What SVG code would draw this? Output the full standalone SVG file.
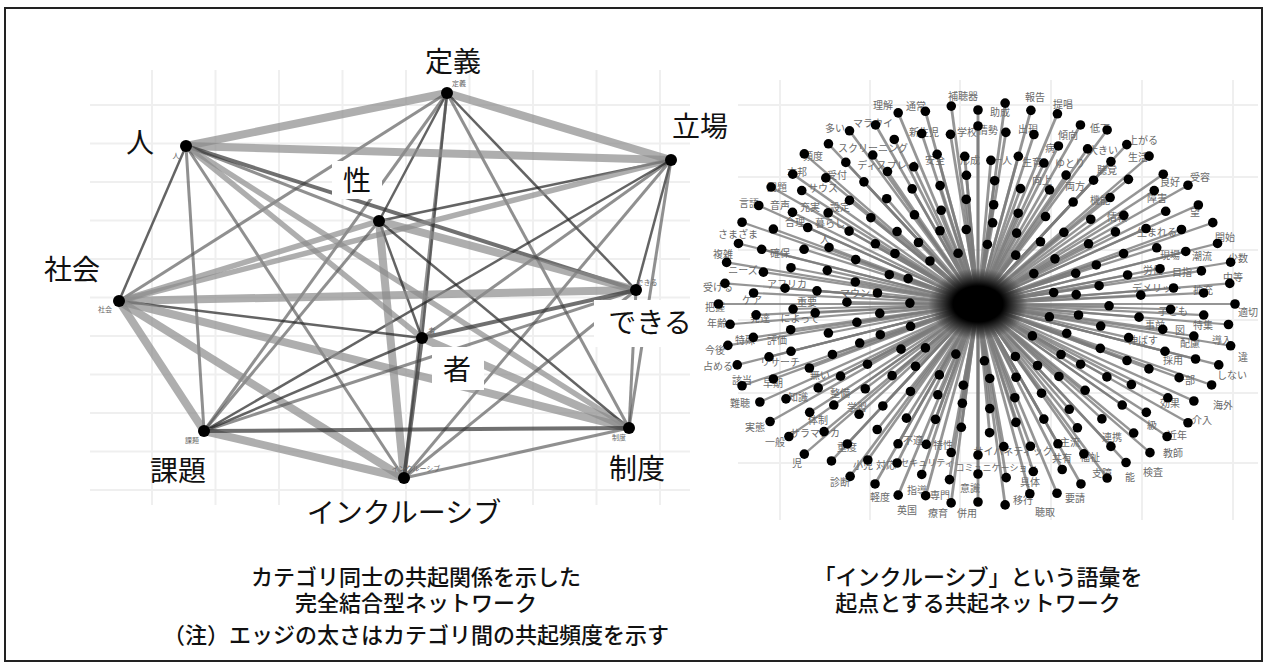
<svg xmlns="http://www.w3.org/2000/svg" width="1268" height="666" viewBox="0 0 1268 666">
<style>
text{font-family:"Noto Sans CJK JP","Noto Sans",sans-serif}
.big{font-size:28px;fill:#111;text-anchor:middle}
.sm{font-size:7px;fill:#666;text-anchor:middle}
text.cap{font-family:"Liberation Sans","Noto Sans CJK JP",sans-serif;font-size:22px;fill:#111;text-anchor:middle;font-weight:500}
.rl{font-size:10px;fill:#6a6a6a;text-anchor:middle}
.grid line{stroke:#efefef;stroke-width:2}
.e1{stroke:#8c8c8c;stroke-opacity:.7;stroke-width:8}
.e2{stroke:#8c8c8c;stroke-opacity:.7;stroke-width:5.5}
.e3{stroke:#222;stroke-opacity:.7;stroke-width:2.5}
.e4{stroke:#555;stroke-opacity:.65;stroke-width:3}
.e5{stroke:#333;stroke-opacity:.7;stroke-width:4}
.box{fill:#fff}
.spk line{stroke:#7a7a7a;stroke-opacity:.8;stroke-width:2.2}
</style>
<defs>
<circle id="d" r="4.8" fill="#000"/>
<radialGradient id="blob">
<stop offset="0" stop-color="#000"/>
<stop offset=".5" stop-color="#000"/>
<stop offset="1" stop-color="#000" stop-opacity="0"/>
</radialGradient>
</defs>
<rect width="1268" height="666" fill="#fff"/>
<rect x="5" y="8" width="1257" height="653" fill="none" stroke="#222" stroke-width="2"/>

<g class="grid" id="grid-left">
<line x1="152" y1="70" x2="152" y2="505"/><line x1="215.5" y1="70" x2="215.5" y2="505"/><line x1="279" y1="70" x2="279" y2="505"/><line x1="342.5" y1="70" x2="342.5" y2="505"/><line x1="406" y1="70" x2="406" y2="505"/><line x1="469.5" y1="70" x2="469.5" y2="505"/><line x1="533" y1="70" x2="533" y2="505"/><line x1="596.5" y1="70" x2="596.5" y2="505"/><line x1="660" y1="70" x2="660" y2="505"/>
<line x1="90" y1="105" x2="690" y2="105"/><line x1="90" y1="143.5" x2="690" y2="143.5"/><line x1="90" y1="182" x2="690" y2="182"/><line x1="90" y1="220.5" x2="690" y2="220.5"/><line x1="90" y1="259" x2="690" y2="259"/><line x1="90" y1="297.5" x2="690" y2="297.5"/><line x1="90" y1="336" x2="690" y2="336"/><line x1="90" y1="374.5" x2="690" y2="374.5"/><line x1="90" y1="413" x2="690" y2="413"/><line x1="90" y1="451.5" x2="690" y2="451.5"/><line x1="90" y1="490" x2="690" y2="490"/>
</g>
<g class="grid" id="grid-right">
<line x1="780" y1="80" x2="780" y2="520"/><line x1="870" y1="80" x2="870" y2="520"/><line x1="960" y1="80" x2="960" y2="520"/><line x1="1051" y1="80" x2="1051" y2="520"/><line x1="1142" y1="80" x2="1142" y2="520"/><line x1="1233" y1="80" x2="1233" y2="520"/>
<line x1="738" y1="105" x2="1258" y2="105"/><line x1="738" y1="177" x2="1258" y2="177"/><line x1="738" y1="250" x2="1258" y2="250"/><line x1="738" y1="320" x2="1258" y2="320"/><line x1="738" y1="393" x2="1258" y2="393"/><line x1="738" y1="463" x2="1258" y2="463"/>
</g>

<g id="edges-left" stroke-linecap="butt">
<line class="e1" x1="447" y1="93" x2="186" y2="146"/>
<line class="e1" x1="447" y1="93" x2="671" y2="160"/>
<line class="e3" x1="447" y1="93" x2="379" y2="221"/>
<line class="e4" x1="447" y1="93" x2="119" y2="301"/>
<line class="e3" x1="447" y1="93" x2="636" y2="290"/>
<line class="e3" x1="447" y1="93" x2="422" y2="338"/>
<line class="e4" x1="447" y1="93" x2="204" y2="431"/>
<line class="e4" x1="447" y1="93" x2="404" y2="478"/>
<line class="e4" x1="447" y1="93" x2="629" y2="428"/>
<line class="e1" x1="186" y1="146" x2="671" y2="160"/>
<line class="e4" x1="186" y1="146" x2="379" y2="221"/>
<line class="e3" x1="186" y1="146" x2="119" y2="301"/>
<line class="e5" x1="186" y1="146" x2="636" y2="290"/>
<line class="e2" x1="186" y1="146" x2="422" y2="338"/>
<line class="e4" x1="186" y1="146" x2="204" y2="431"/>
<line class="e4" x1="186" y1="146" x2="404" y2="478"/>
<line class="e2" x1="186" y1="146" x2="629" y2="428"/>
<line class="e3" x1="671" y1="160" x2="379" y2="221"/>
<line class="e2" x1="671" y1="160" x2="119" y2="301"/>
<line class="e3" x1="671" y1="160" x2="636" y2="290"/>
<line class="e4" x1="671" y1="160" x2="422" y2="338"/>
<line class="e3" x1="671" y1="160" x2="204" y2="431"/>
<line class="e4" x1="671" y1="160" x2="404" y2="478"/>
<line class="e4" x1="671" y1="160" x2="629" y2="428"/>
<line class="e2" x1="379" y1="221" x2="119" y2="301"/>
<line class="e1" x1="379" y1="221" x2="636" y2="290" stroke-width="9"/>
<line class="e3" x1="379" y1="221" x2="422" y2="338"/>
<line class="e4" x1="379" y1="221" x2="204" y2="431"/>
<line class="e1" x1="379" y1="221" x2="404" y2="478"/>
<line class="e3" x1="379" y1="221" x2="629" y2="428"/>
<line class="e1" x1="119" y1="301" x2="636" y2="290"/>
<line class="e3" x1="119" y1="301" x2="422" y2="338"/>
<line class="e1" x1="119" y1="301" x2="204" y2="431" stroke-width="7"/>
<line class="e1" x1="119" y1="301" x2="404" y2="478"/>
<line class="e1" x1="119" y1="301" x2="629" y2="428" stroke-width="9"/>
<line class="e5" x1="636" y1="290" x2="422" y2="338"/>
<line class="e4" x1="636" y1="290" x2="204" y2="431"/>
<line class="e4" x1="636" y1="290" x2="404" y2="478"/>
<line class="e4" x1="636" y1="290" x2="629" y2="428"/>
<line class="e3" x1="422" y1="338" x2="204" y2="431"/>
<line class="e5" x1="422" y1="338" x2="404" y2="478"/>
<line class="e1" x1="422" y1="338" x2="629" y2="428" stroke-width="9"/>
<line class="e1" x1="204" y1="431" x2="404" y2="478" stroke-width="10"/>
<line class="e5" x1="204" y1="431" x2="629" y2="428"/>
<line class="e4" x1="404" y1="478" x2="629" y2="428"/>
</g>

<g id="label-boxes">
<rect class="box" x="332" y="161" width="50" height="38"/>
<rect class="box" x="594" y="300" width="106" height="47"/>
<rect class="box" x="432" y="347" width="52" height="43"/>
</g>

<g id="n-teigi"><circle cx="447" cy="93" r="6"/><text class="sm" x="459" y="86">定義</text><text class="big" x="453" y="72">定義</text></g>
<g id="n-hito"><circle cx="186" cy="146" r="6"/><text class="sm" x="176" y="158">人</text><text class="big" x="140" y="153">人</text></g>
<g id="n-tachiba"><circle cx="671" cy="160" r="6"/><text class="big" x="700" y="137">立場</text></g>
<g id="n-sei"><circle cx="379" cy="221" r="6"/><text class="big" x="357" y="191">性</text></g>
<g id="n-shakai"><circle cx="119" cy="301" r="6"/><text class="sm" x="105" y="312">社会</text><text class="big" x="72" y="280">社会</text></g>
<g id="n-dekiru"><circle cx="636" cy="290" r="6"/><text class="sm" x="647" y="285">できる</text><text class="big" x="650" y="333">できる</text></g>
<g id="n-mono"><circle cx="422" cy="338" r="6"/><text class="sm" x="432" y="333">者</text><text class="big" x="457" y="380">者</text></g>
<g id="n-kadai"><circle cx="204" cy="431" r="6"/><text class="sm" x="192" y="443">課題</text><text class="big" x="178" y="481">課題</text></g>
<g id="n-inclusive"><circle cx="404" cy="478" r="6"/><text class="sm" x="416" y="471">インクルーシブ</text><text class="big" x="404" y="523">インクルーシブ</text></g>
<g id="n-seido"><circle cx="629" cy="428" r="6"/><text class="sm" x="619" y="440">制度</text><text class="big" x="637" y="479">制度</text></g>

<g id="star-network">
<g id="star-spokes" class="spk" transform="translate(978 304) scale(1.285 1)">
<line x2="200" transform="rotate(0)"/><line x2="196" transform="rotate(6)"/><line x2="201" transform="rotate(12)"/><line x2="197" transform="rotate(18)"/><line x2="199" transform="rotate(24)"/><line x2="194" transform="rotate(30)"/><line x2="202" transform="rotate(36)"/><line x2="198" transform="rotate(42)"/><line x2="200" transform="rotate(48)"/><line x2="196" transform="rotate(54)"/><line x2="201" transform="rotate(60)"/><line x2="197" transform="rotate(66)"/><line x2="199" transform="rotate(72)"/><line x2="194" transform="rotate(78)"/><line x2="202" transform="rotate(84)"/><line x2="198" transform="rotate(90)"/><line x2="200" transform="rotate(96)"/><line x2="196" transform="rotate(102)"/><line x2="201" transform="rotate(108)"/><line x2="197" transform="rotate(114)"/><line x2="199" transform="rotate(120)"/><line x2="194" transform="rotate(126)"/><line x2="202" transform="rotate(132)"/><line x2="198" transform="rotate(138)"/><line x2="200" transform="rotate(144)"/><line x2="196" transform="rotate(150)"/><line x2="201" transform="rotate(156)"/><line x2="197" transform="rotate(162)"/><line x2="199" transform="rotate(168)"/><line x2="194" transform="rotate(174)"/><line x2="202" transform="rotate(180)"/><line x2="198" transform="rotate(186)"/><line x2="200" transform="rotate(192)"/><line x2="196" transform="rotate(198)"/><line x2="201" transform="rotate(204)"/><line x2="197" transform="rotate(210)"/><line x2="199" transform="rotate(216)"/><line x2="194" transform="rotate(222)"/><line x2="202" transform="rotate(228)"/><line x2="198" transform="rotate(234)"/><line x2="200" transform="rotate(240)"/><line x2="196" transform="rotate(246)"/><line x2="201" transform="rotate(252)"/><line x2="197" transform="rotate(258)"/><line x2="199" transform="rotate(264)"/><line x2="194" transform="rotate(270)"/><line x2="202" transform="rotate(276)"/><line x2="198" transform="rotate(282)"/><line x2="200" transform="rotate(288)"/><line x2="196" transform="rotate(294)"/><line x2="201" transform="rotate(300)"/><line x2="197" transform="rotate(306)"/><line x2="199" transform="rotate(312)"/><line x2="194" transform="rotate(318)"/><line x2="202" transform="rotate(324)"/><line x2="198" transform="rotate(330)"/><line x2="200" transform="rotate(336)"/><line x2="196" transform="rotate(342)"/><line x2="201" transform="rotate(348)"/><line x2="197" transform="rotate(354)"/>
<line x2="176" transform="rotate(3.6)"/><line x2="171" transform="rotate(10.8)"/><line x2="178" transform="rotate(18)"/><line x2="173" transform="rotate(25.2)"/><line x2="175" transform="rotate(32.4)"/><line x2="170" transform="rotate(39.6)"/><line x2="177" transform="rotate(46.8)"/><line x2="176" transform="rotate(54)"/><line x2="171" transform="rotate(61.2)"/><line x2="178" transform="rotate(68.4)"/><line x2="173" transform="rotate(75.6)"/><line x2="175" transform="rotate(82.8)"/><line x2="170" transform="rotate(90)"/><line x2="177" transform="rotate(97.2)"/><line x2="176" transform="rotate(104.4)"/><line x2="171" transform="rotate(111.6)"/><line x2="178" transform="rotate(118.8)"/><line x2="173" transform="rotate(126)"/><line x2="175" transform="rotate(133.2)"/><line x2="170" transform="rotate(140.4)"/><line x2="177" transform="rotate(147.6)"/><line x2="176" transform="rotate(154.8)"/><line x2="171" transform="rotate(162)"/><line x2="178" transform="rotate(169.2)"/><line x2="173" transform="rotate(176.4)"/><line x2="175" transform="rotate(183.6)"/><line x2="170" transform="rotate(190.8)"/><line x2="177" transform="rotate(198)"/><line x2="176" transform="rotate(205.2)"/><line x2="171" transform="rotate(212.4)"/><line x2="178" transform="rotate(219.6)"/><line x2="173" transform="rotate(226.8)"/><line x2="175" transform="rotate(234)"/><line x2="170" transform="rotate(241.2)"/><line x2="177" transform="rotate(248.4)"/><line x2="176" transform="rotate(255.6)"/><line x2="171" transform="rotate(262.8)"/><line x2="178" transform="rotate(270)"/><line x2="173" transform="rotate(277.2)"/><line x2="175" transform="rotate(284.4)"/><line x2="170" transform="rotate(291.6)"/><line x2="177" transform="rotate(298.8)"/><line x2="176" transform="rotate(306)"/><line x2="171" transform="rotate(313.2)"/><line x2="178" transform="rotate(320.4)"/><line x2="173" transform="rotate(327.6)"/><line x2="175" transform="rotate(334.8)"/><line x2="170" transform="rotate(342)"/><line x2="177" transform="rotate(349.2)"/><line x2="176" transform="rotate(356.4)"/>
<line x2="150" transform="rotate(2)"/><line x2="146" transform="rotate(10)"/><line x2="153" transform="rotate(18)"/><line x2="148" transform="rotate(26)"/><line x2="144" transform="rotate(34)"/><line x2="151" transform="rotate(42)"/><line x2="150" transform="rotate(50)"/><line x2="146" transform="rotate(58)"/><line x2="153" transform="rotate(66)"/><line x2="148" transform="rotate(74)"/><line x2="144" transform="rotate(82)"/><line x2="151" transform="rotate(90)"/><line x2="150" transform="rotate(98)"/><line x2="146" transform="rotate(106)"/><line x2="153" transform="rotate(114)"/><line x2="148" transform="rotate(122)"/><line x2="144" transform="rotate(130)"/><line x2="151" transform="rotate(138)"/><line x2="150" transform="rotate(146)"/><line x2="146" transform="rotate(154)"/><line x2="153" transform="rotate(162)"/><line x2="148" transform="rotate(170)"/><line x2="144" transform="rotate(178)"/><line x2="151" transform="rotate(186)"/><line x2="150" transform="rotate(194)"/><line x2="146" transform="rotate(202)"/><line x2="153" transform="rotate(210)"/><line x2="148" transform="rotate(218)"/><line x2="144" transform="rotate(226)"/><line x2="151" transform="rotate(234)"/><line x2="150" transform="rotate(242)"/><line x2="146" transform="rotate(250)"/><line x2="153" transform="rotate(258)"/><line x2="148" transform="rotate(266)"/><line x2="144" transform="rotate(274)"/><line x2="151" transform="rotate(282)"/><line x2="150" transform="rotate(290)"/><line x2="146" transform="rotate(298)"/><line x2="153" transform="rotate(306)"/><line x2="148" transform="rotate(314)"/><line x2="144" transform="rotate(322)"/><line x2="151" transform="rotate(330)"/><line x2="150" transform="rotate(338)"/><line x2="146" transform="rotate(346)"/><line x2="153" transform="rotate(354)"/>
<line x2="126" transform="rotate(6)"/><line x2="122" transform="rotate(16)"/><line x2="129" transform="rotate(26)"/><line x2="124" transform="rotate(36)"/><line x2="120" transform="rotate(46)"/><line x2="127" transform="rotate(56)"/><line x2="126" transform="rotate(66)"/><line x2="122" transform="rotate(76)"/><line x2="129" transform="rotate(86)"/><line x2="124" transform="rotate(96)"/><line x2="120" transform="rotate(106)"/><line x2="127" transform="rotate(116)"/><line x2="126" transform="rotate(126)"/><line x2="122" transform="rotate(136)"/><line x2="129" transform="rotate(146)"/><line x2="124" transform="rotate(156)"/><line x2="120" transform="rotate(166)"/><line x2="127" transform="rotate(176)"/><line x2="126" transform="rotate(186)"/><line x2="122" transform="rotate(196)"/><line x2="129" transform="rotate(206)"/><line x2="124" transform="rotate(216)"/><line x2="120" transform="rotate(226)"/><line x2="127" transform="rotate(236)"/><line x2="126" transform="rotate(246)"/><line x2="122" transform="rotate(256)"/><line x2="129" transform="rotate(266)"/><line x2="124" transform="rotate(276)"/><line x2="120" transform="rotate(286)"/><line x2="127" transform="rotate(296)"/><line x2="126" transform="rotate(306)"/><line x2="122" transform="rotate(316)"/><line x2="129" transform="rotate(326)"/><line x2="124" transform="rotate(336)"/><line x2="120" transform="rotate(346)"/><line x2="127" transform="rotate(356)"/>
<line x2="102" transform="rotate(1)"/><line x2="98" transform="rotate(13)"/><line x2="105" transform="rotate(25)"/><line x2="100" transform="rotate(37)"/><line x2="96" transform="rotate(49)"/><line x2="102" transform="rotate(61)"/><line x2="98" transform="rotate(73)"/><line x2="105" transform="rotate(85)"/><line x2="100" transform="rotate(97)"/><line x2="96" transform="rotate(109)"/><line x2="102" transform="rotate(121)"/><line x2="98" transform="rotate(133)"/><line x2="105" transform="rotate(145)"/><line x2="100" transform="rotate(157)"/><line x2="96" transform="rotate(169)"/><line x2="102" transform="rotate(181)"/><line x2="98" transform="rotate(193)"/><line x2="105" transform="rotate(205)"/><line x2="100" transform="rotate(217)"/><line x2="96" transform="rotate(229)"/><line x2="102" transform="rotate(241)"/><line x2="98" transform="rotate(253)"/><line x2="105" transform="rotate(265)"/><line x2="100" transform="rotate(277)"/><line x2="96" transform="rotate(289)"/><line x2="102" transform="rotate(301)"/><line x2="98" transform="rotate(313)"/><line x2="105" transform="rotate(325)"/><line x2="100" transform="rotate(337)"/><line x2="96" transform="rotate(349)"/>
<line x2="79" transform="rotate(8)"/><line x2="75" transform="rotate(23)"/><line x2="82" transform="rotate(38)"/><line x2="77" transform="rotate(53)"/><line x2="79" transform="rotate(68)"/><line x2="75" transform="rotate(83)"/><line x2="82" transform="rotate(98)"/><line x2="77" transform="rotate(113)"/><line x2="79" transform="rotate(128)"/><line x2="75" transform="rotate(143)"/><line x2="82" transform="rotate(158)"/><line x2="77" transform="rotate(173)"/><line x2="79" transform="rotate(188)"/><line x2="75" transform="rotate(203)"/><line x2="82" transform="rotate(218)"/><line x2="77" transform="rotate(233)"/><line x2="79" transform="rotate(248)"/><line x2="75" transform="rotate(263)"/><line x2="82" transform="rotate(278)"/><line x2="77" transform="rotate(293)"/><line x2="79" transform="rotate(308)"/><line x2="75" transform="rotate(323)"/><line x2="82" transform="rotate(338)"/><line x2="77" transform="rotate(353)"/>
<line x2="57" transform="rotate(13)"/><line x2="53" transform="rotate(37)"/><line x2="60" transform="rotate(61)"/><line x2="57" transform="rotate(85)"/><line x2="53" transform="rotate(109)"/><line x2="60" transform="rotate(133)"/><line x2="57" transform="rotate(157)"/><line x2="53" transform="rotate(181)"/><line x2="60" transform="rotate(205)"/><line x2="57" transform="rotate(229)"/><line x2="53" transform="rotate(253)"/><line x2="60" transform="rotate(277)"/><line x2="57" transform="rotate(301)"/><line x2="53" transform="rotate(325)"/><line x2="60" transform="rotate(349)"/>
</g>
<ellipse id="star-center" cx="978" cy="304" rx="50" ry="36" fill="url(#blob)"/>

<g id="star-labels">
<text class="rl" x="883" y="109">理解</text><text class="rl" x="916" y="110">通常</text><text class="rl" x="963" y="100">補聴器</text><text class="rl" x="1035" y="101">報告</text><text class="rl" x="1063" y="108">提唱</text><text class="rl" x="1000" y="116">助成</text>
<text class="rl" x="835" y="132">多い</text><text class="rl" x="873" y="127">マラウイ</text><text class="rl" x="924" y="136">新生児</text><text class="rl" x="967" y="136">学校</text><text class="rl" x="988" y="134">情勢</text><text class="rl" x="1028" y="133">出現</text><text class="rl" x="1068" y="139">傾向</text><text class="rl" x="1100" y="132">低下</text>
<text class="rl" x="873" y="152">スクリーニング</text><text class="rl" x="1050" y="152">病</text><text class="rl" x="1103" y="154">大きい</text><text class="rl" x="1143" y="144">上がる</text>
<text class="rl" x="813" y="160">頻度</text><text class="rl" x="887" y="169">ディスプレイ</text><text class="rl" x="935" y="164">安全</text><text class="rl" x="970" y="164">形成</text><text class="rl" x="1002" y="164">一人</text><text class="rl" x="1032" y="166">生育</text><text class="rl" x="1070" y="167">ゆとり</text><text class="rl" x="1138" y="161">生活</text><text class="rl" x="1107" y="174">聴覚</text>
<text class="rl" x="797" y="176">本邦</text><text class="rl" x="837" y="179">受付</text><text class="rl" x="1170" y="186">良好</text><text class="rl" x="1200" y="181">受容</text>
<text class="rl" x="777" y="191">問題</text><text class="rl" x="823" y="192">サウス</text><text class="rl" x="1042" y="184">向上</text><text class="rl" x="1075" y="190">両方</text>
<text class="rl" x="749" y="207">言語</text><text class="rl" x="780" y="209">音声</text><text class="rl" x="810" y="211">充実</text><text class="rl" x="840" y="211">設定</text><text class="rl" x="1157" y="202">障害</text><text class="rl" x="1100" y="204">機能</text>
<text class="rl" x="795" y="226">合理</text><text class="rl" x="830" y="227">暮らし</text><text class="rl" x="1195" y="216">望</text><text class="rl" x="1117" y="221">情報</text>
<text class="rl" x="738" y="238">さまざま</text><text class="rl" x="825" y="243">人</text><text class="rl" x="1157" y="236">生まれる</text><text class="rl" x="1225" y="241">開始</text>
<text class="rl" x="723" y="258">複雑</text><text class="rl" x="780" y="257">確保</text><text class="rl" x="1170" y="259">現場</text><text class="rl" x="1202" y="260">潮流</text><text class="rl" x="1238" y="262">少数</text>
<text class="rl" x="743" y="274">ニーズ</text><text class="rl" x="1182" y="276">目指</text><text class="rl" x="1233" y="281">中等</text><text class="rl" x="1153" y="274">労働</text>
<text class="rl" x="718" y="291">受ける</text><text class="rl" x="787" y="288">アフリカ</text><text class="rl" x="860" y="297">マウント</text><text class="rl" x="1157" y="292">デメリット</text><text class="rl" x="1203" y="294">拡充</text>
<text class="rl" x="715" y="311">把握</text><text class="rl" x="752" y="304">ケア</text><text class="rl" x="807" y="306">重要</text><text class="rl" x="1248" y="316">適切</text><text class="rl" x="1173" y="315">子ども</text>
<text class="rl" x="717" y="327">年齢</text><text class="rl" x="760" y="322">発達</text><text class="rl" x="800" y="322">によって</text><text class="rl" x="1155" y="329">事前</text><text class="rl" x="1180" y="334">図</text><text class="rl" x="1203" y="329">特集</text>
<text class="rl" x="745" y="344">特殊</text><text class="rl" x="777" y="344">評価</text><text class="rl" x="1143" y="344">伸ばす</text><text class="rl" x="1190" y="347">配慮</text><text class="rl" x="1222" y="344">導入</text>
<text class="rl" x="715" y="354">今後</text><text class="rl" x="1243" y="361">違</text><text class="rl" x="1173" y="364">採用</text>
<text class="rl" x="718" y="370">占める</text><text class="rl" x="780" y="366">リサーチ</text><text class="rl" x="820" y="379">無い</text><text class="rl" x="1232" y="379">しない</text><text class="rl" x="1185" y="384">一部</text>
<text class="rl" x="742" y="384">該当</text><text class="rl" x="773" y="387">早期</text>
<text class="rl" x="740" y="407">難聴</text><text class="rl" x="798" y="401">知識</text><text class="rl" x="840" y="397">整備</text><text class="rl" x="1223" y="409">海外</text><text class="rl" x="1170" y="407">効果</text>
<text class="rl" x="1202" y="424">介入</text><text class="rl" x="1152" y="429">級</text><text class="rl" x="857" y="411">学習</text>
<text class="rl" x="755" y="431">実態</text><text class="rl" x="818" y="424">体制</text><text class="rl" x="815" y="437">サラマンカ</text><text class="rl" x="1177" y="439">近年</text><text class="rl" x="1112" y="441">連携</text><text class="rl" x="1070" y="446">主流</text>
<text class="rl" x="775" y="446">一般</text><text class="rl" x="847" y="451">重度</text><text class="rl" x="943" y="449">特性</text><text class="rl" x="913" y="444">不適</text><text class="rl" x="1013" y="455">サイバネティック</text>
<text class="rl" x="1173" y="457">教師</text><text class="rl" x="1090" y="461">福祉</text><text class="rl" x="1062" y="462">共有</text>
<text class="rl" x="797" y="467">児</text><text class="rl" x="863" y="469">小児</text><text class="rl" x="886" y="469">対応</text><text class="rl" x="927" y="466" style="font-size:9px">セキュリティ</text><text class="rl" x="996" y="471" style="font-size:9px">コミュニケーション</text>
<text class="rl" x="1153" y="476">検査</text><text class="rl" x="1130" y="481">能</text><text class="rl" x="1102" y="477">支障</text><text class="rl" x="1030" y="486">具体</text>
<text class="rl" x="840" y="486">診断</text><text class="rl" x="970" y="492">意識</text><text class="rl" x="917" y="494">指導</text><text class="rl" x="940" y="499">専門</text><text class="rl" x="880" y="501">軽度</text><text class="rl" x="1023" y="504">移行</text><text class="rl" x="1075" y="502">要請</text>
<text class="rl" x="907" y="514">英国</text><text class="rl" x="938" y="517">療育</text><text class="rl" x="967" y="517">併用</text><text class="rl" x="1045" y="516">聴取</text>
</g>

<g id="star-dots" transform="translate(978 304) scale(1.285 1)">
<use href="#d" transform="rotate(0)translate(200)rotate(0)scale(.778,1)"/><use href="#d" transform="rotate(6)translate(196)rotate(-6)scale(.778,1)"/><use href="#d" transform="rotate(12)translate(201)rotate(-12)scale(.778,1)"/><use href="#d" transform="rotate(18)translate(197)rotate(-18)scale(.778,1)"/><use href="#d" transform="rotate(24)translate(199)rotate(-24)scale(.778,1)"/><use href="#d" transform="rotate(30)translate(194)rotate(-30)scale(.778,1)"/><use href="#d" transform="rotate(36)translate(202)rotate(-36)scale(.778,1)"/><use href="#d" transform="rotate(42)translate(198)rotate(-42)scale(.778,1)"/><use href="#d" transform="rotate(48)translate(200)rotate(-48)scale(.778,1)"/><use href="#d" transform="rotate(54)translate(196)rotate(-54)scale(.778,1)"/><use href="#d" transform="rotate(60)translate(201)rotate(-60)scale(.778,1)"/><use href="#d" transform="rotate(66)translate(197)rotate(-66)scale(.778,1)"/><use href="#d" transform="rotate(72)translate(199)rotate(-72)scale(.778,1)"/><use href="#d" transform="rotate(78)translate(194)rotate(-78)scale(.778,1)"/><use href="#d" transform="rotate(84)translate(202)rotate(-84)scale(.778,1)"/><use href="#d" transform="rotate(90)translate(198)rotate(-90)scale(.778,1)"/><use href="#d" transform="rotate(96)translate(200)rotate(-96)scale(.778,1)"/><use href="#d" transform="rotate(102)translate(196)rotate(-102)scale(.778,1)"/><use href="#d" transform="rotate(108)translate(201)rotate(-108)scale(.778,1)"/><use href="#d" transform="rotate(114)translate(197)rotate(-114)scale(.778,1)"/><use href="#d" transform="rotate(120)translate(199)rotate(-120)scale(.778,1)"/><use href="#d" transform="rotate(126)translate(194)rotate(-126)scale(.778,1)"/><use href="#d" transform="rotate(132)translate(202)rotate(-132)scale(.778,1)"/><use href="#d" transform="rotate(138)translate(198)rotate(-138)scale(.778,1)"/><use href="#d" transform="rotate(144)translate(200)rotate(-144)scale(.778,1)"/><use href="#d" transform="rotate(150)translate(196)rotate(-150)scale(.778,1)"/><use href="#d" transform="rotate(156)translate(201)rotate(-156)scale(.778,1)"/><use href="#d" transform="rotate(162)translate(197)rotate(-162)scale(.778,1)"/><use href="#d" transform="rotate(168)translate(199)rotate(-168)scale(.778,1)"/><use href="#d" transform="rotate(174)translate(194)rotate(-174)scale(.778,1)"/><use href="#d" transform="rotate(180)translate(202)rotate(-180)scale(.778,1)"/><use href="#d" transform="rotate(186)translate(198)rotate(-186)scale(.778,1)"/><use href="#d" transform="rotate(192)translate(200)rotate(-192)scale(.778,1)"/><use href="#d" transform="rotate(198)translate(196)rotate(-198)scale(.778,1)"/><use href="#d" transform="rotate(204)translate(201)rotate(-204)scale(.778,1)"/><use href="#d" transform="rotate(210)translate(197)rotate(-210)scale(.778,1)"/><use href="#d" transform="rotate(216)translate(199)rotate(-216)scale(.778,1)"/><use href="#d" transform="rotate(222)translate(194)rotate(-222)scale(.778,1)"/><use href="#d" transform="rotate(228)translate(202)rotate(-228)scale(.778,1)"/><use href="#d" transform="rotate(234)translate(198)rotate(-234)scale(.778,1)"/><use href="#d" transform="rotate(240)translate(200)rotate(-240)scale(.778,1)"/><use href="#d" transform="rotate(246)translate(196)rotate(-246)scale(.778,1)"/><use href="#d" transform="rotate(252)translate(201)rotate(-252)scale(.778,1)"/><use href="#d" transform="rotate(258)translate(197)rotate(-258)scale(.778,1)"/><use href="#d" transform="rotate(264)translate(199)rotate(-264)scale(.778,1)"/><use href="#d" transform="rotate(270)translate(194)rotate(-270)scale(.778,1)"/><use href="#d" transform="rotate(276)translate(202)rotate(-276)scale(.778,1)"/><use href="#d" transform="rotate(282)translate(198)rotate(-282)scale(.778,1)"/><use href="#d" transform="rotate(288)translate(200)rotate(-288)scale(.778,1)"/><use href="#d" transform="rotate(294)translate(196)rotate(-294)scale(.778,1)"/><use href="#d" transform="rotate(300)translate(201)rotate(-300)scale(.778,1)"/><use href="#d" transform="rotate(306)translate(197)rotate(-306)scale(.778,1)"/><use href="#d" transform="rotate(312)translate(199)rotate(-312)scale(.778,1)"/><use href="#d" transform="rotate(318)translate(194)rotate(-318)scale(.778,1)"/><use href="#d" transform="rotate(324)translate(202)rotate(-324)scale(.778,1)"/><use href="#d" transform="rotate(330)translate(198)rotate(-330)scale(.778,1)"/><use href="#d" transform="rotate(336)translate(200)rotate(-336)scale(.778,1)"/><use href="#d" transform="rotate(342)translate(196)rotate(-342)scale(.778,1)"/><use href="#d" transform="rotate(348)translate(201)rotate(-348)scale(.778,1)"/><use href="#d" transform="rotate(354)translate(197)rotate(-354)scale(.778,1)"/>
<use href="#d" transform="rotate(3.6)translate(176)rotate(-3.6)scale(.778,1)"/><use href="#d" transform="rotate(10.8)translate(171)rotate(-10.8)scale(.778,1)"/><use href="#d" transform="rotate(18)translate(178)rotate(-18)scale(.778,1)"/><use href="#d" transform="rotate(25.2)translate(173)rotate(-25.2)scale(.778,1)"/><use href="#d" transform="rotate(32.4)translate(175)rotate(-32.4)scale(.778,1)"/><use href="#d" transform="rotate(39.6)translate(170)rotate(-39.6)scale(.778,1)"/><use href="#d" transform="rotate(46.8)translate(177)rotate(-46.8)scale(.778,1)"/><use href="#d" transform="rotate(54)translate(176)rotate(-54)scale(.778,1)"/><use href="#d" transform="rotate(61.2)translate(171)rotate(-61.2)scale(.778,1)"/><use href="#d" transform="rotate(68.4)translate(178)rotate(-68.4)scale(.778,1)"/><use href="#d" transform="rotate(75.6)translate(173)rotate(-75.6)scale(.778,1)"/><use href="#d" transform="rotate(82.8)translate(175)rotate(-82.8)scale(.778,1)"/><use href="#d" transform="rotate(90)translate(170)rotate(-90)scale(.778,1)"/><use href="#d" transform="rotate(97.2)translate(177)rotate(-97.2)scale(.778,1)"/><use href="#d" transform="rotate(104.4)translate(176)rotate(-104.4)scale(.778,1)"/><use href="#d" transform="rotate(111.6)translate(171)rotate(-111.6)scale(.778,1)"/><use href="#d" transform="rotate(118.8)translate(178)rotate(-118.8)scale(.778,1)"/><use href="#d" transform="rotate(126)translate(173)rotate(-126)scale(.778,1)"/><use href="#d" transform="rotate(133.2)translate(175)rotate(-133.2)scale(.778,1)"/><use href="#d" transform="rotate(140.4)translate(170)rotate(-140.4)scale(.778,1)"/><use href="#d" transform="rotate(147.6)translate(177)rotate(-147.6)scale(.778,1)"/><use href="#d" transform="rotate(154.8)translate(176)rotate(-154.8)scale(.778,1)"/><use href="#d" transform="rotate(162)translate(171)rotate(-162)scale(.778,1)"/><use href="#d" transform="rotate(169.2)translate(178)rotate(-169.2)scale(.778,1)"/><use href="#d" transform="rotate(176.4)translate(173)rotate(-176.4)scale(.778,1)"/><use href="#d" transform="rotate(183.6)translate(175)rotate(-183.6)scale(.778,1)"/><use href="#d" transform="rotate(190.8)translate(170)rotate(-190.8)scale(.778,1)"/><use href="#d" transform="rotate(198)translate(177)rotate(-198)scale(.778,1)"/><use href="#d" transform="rotate(205.2)translate(176)rotate(-205.2)scale(.778,1)"/><use href="#d" transform="rotate(212.4)translate(171)rotate(-212.4)scale(.778,1)"/><use href="#d" transform="rotate(219.6)translate(178)rotate(-219.6)scale(.778,1)"/><use href="#d" transform="rotate(226.8)translate(173)rotate(-226.8)scale(.778,1)"/><use href="#d" transform="rotate(234)translate(175)rotate(-234)scale(.778,1)"/><use href="#d" transform="rotate(241.2)translate(170)rotate(-241.2)scale(.778,1)"/><use href="#d" transform="rotate(248.4)translate(177)rotate(-248.4)scale(.778,1)"/><use href="#d" transform="rotate(255.6)translate(176)rotate(-255.6)scale(.778,1)"/><use href="#d" transform="rotate(262.8)translate(171)rotate(-262.8)scale(.778,1)"/><use href="#d" transform="rotate(270)translate(178)rotate(-270)scale(.778,1)"/><use href="#d" transform="rotate(277.2)translate(173)rotate(-277.2)scale(.778,1)"/><use href="#d" transform="rotate(284.4)translate(175)rotate(-284.4)scale(.778,1)"/><use href="#d" transform="rotate(291.6)translate(170)rotate(-291.6)scale(.778,1)"/><use href="#d" transform="rotate(298.8)translate(177)rotate(-298.8)scale(.778,1)"/><use href="#d" transform="rotate(306)translate(176)rotate(-306)scale(.778,1)"/><use href="#d" transform="rotate(313.2)translate(171)rotate(-313.2)scale(.778,1)"/><use href="#d" transform="rotate(320.4)translate(178)rotate(-320.4)scale(.778,1)"/><use href="#d" transform="rotate(327.6)translate(173)rotate(-327.6)scale(.778,1)"/><use href="#d" transform="rotate(334.8)translate(175)rotate(-334.8)scale(.778,1)"/><use href="#d" transform="rotate(342)translate(170)rotate(-342)scale(.778,1)"/><use href="#d" transform="rotate(349.2)translate(177)rotate(-349.2)scale(.778,1)"/><use href="#d" transform="rotate(356.4)translate(176)rotate(-356.4)scale(.778,1)"/>
<use href="#d" transform="rotate(2)translate(150)rotate(-2)scale(.778,1)"/><use href="#d" transform="rotate(10)translate(146)rotate(-10)scale(.778,1)"/><use href="#d" transform="rotate(18)translate(153)rotate(-18)scale(.778,1)"/><use href="#d" transform="rotate(26)translate(148)rotate(-26)scale(.778,1)"/><use href="#d" transform="rotate(34)translate(144)rotate(-34)scale(.778,1)"/><use href="#d" transform="rotate(42)translate(151)rotate(-42)scale(.778,1)"/><use href="#d" transform="rotate(50)translate(150)rotate(-50)scale(.778,1)"/><use href="#d" transform="rotate(58)translate(146)rotate(-58)scale(.778,1)"/><use href="#d" transform="rotate(66)translate(153)rotate(-66)scale(.778,1)"/><use href="#d" transform="rotate(74)translate(148)rotate(-74)scale(.778,1)"/><use href="#d" transform="rotate(82)translate(144)rotate(-82)scale(.778,1)"/><use href="#d" transform="rotate(90)translate(151)rotate(-90)scale(.778,1)"/><use href="#d" transform="rotate(98)translate(150)rotate(-98)scale(.778,1)"/><use href="#d" transform="rotate(106)translate(146)rotate(-106)scale(.778,1)"/><use href="#d" transform="rotate(114)translate(153)rotate(-114)scale(.778,1)"/><use href="#d" transform="rotate(122)translate(148)rotate(-122)scale(.778,1)"/><use href="#d" transform="rotate(130)translate(144)rotate(-130)scale(.778,1)"/><use href="#d" transform="rotate(138)translate(151)rotate(-138)scale(.778,1)"/><use href="#d" transform="rotate(146)translate(150)rotate(-146)scale(.778,1)"/><use href="#d" transform="rotate(154)translate(146)rotate(-154)scale(.778,1)"/><use href="#d" transform="rotate(162)translate(153)rotate(-162)scale(.778,1)"/><use href="#d" transform="rotate(170)translate(148)rotate(-170)scale(.778,1)"/><use href="#d" transform="rotate(178)translate(144)rotate(-178)scale(.778,1)"/><use href="#d" transform="rotate(186)translate(151)rotate(-186)scale(.778,1)"/><use href="#d" transform="rotate(194)translate(150)rotate(-194)scale(.778,1)"/><use href="#d" transform="rotate(202)translate(146)rotate(-202)scale(.778,1)"/><use href="#d" transform="rotate(210)translate(153)rotate(-210)scale(.778,1)"/><use href="#d" transform="rotate(218)translate(148)rotate(-218)scale(.778,1)"/><use href="#d" transform="rotate(226)translate(144)rotate(-226)scale(.778,1)"/><use href="#d" transform="rotate(234)translate(151)rotate(-234)scale(.778,1)"/><use href="#d" transform="rotate(242)translate(150)rotate(-242)scale(.778,1)"/><use href="#d" transform="rotate(250)translate(146)rotate(-250)scale(.778,1)"/><use href="#d" transform="rotate(258)translate(153)rotate(-258)scale(.778,1)"/><use href="#d" transform="rotate(266)translate(148)rotate(-266)scale(.778,1)"/><use href="#d" transform="rotate(274)translate(144)rotate(-274)scale(.778,1)"/><use href="#d" transform="rotate(282)translate(151)rotate(-282)scale(.778,1)"/><use href="#d" transform="rotate(290)translate(150)rotate(-290)scale(.778,1)"/><use href="#d" transform="rotate(298)translate(146)rotate(-298)scale(.778,1)"/><use href="#d" transform="rotate(306)translate(153)rotate(-306)scale(.778,1)"/><use href="#d" transform="rotate(314)translate(148)rotate(-314)scale(.778,1)"/><use href="#d" transform="rotate(322)translate(144)rotate(-322)scale(.778,1)"/><use href="#d" transform="rotate(330)translate(151)rotate(-330)scale(.778,1)"/><use href="#d" transform="rotate(338)translate(150)rotate(-338)scale(.778,1)"/><use href="#d" transform="rotate(346)translate(146)rotate(-346)scale(.778,1)"/><use href="#d" transform="rotate(354)translate(153)rotate(-354)scale(.778,1)"/>
<use href="#d" transform="rotate(6)translate(126)rotate(-6)scale(.778,1)"/><use href="#d" transform="rotate(16)translate(122)rotate(-16)scale(.778,1)"/><use href="#d" transform="rotate(26)translate(129)rotate(-26)scale(.778,1)"/><use href="#d" transform="rotate(36)translate(124)rotate(-36)scale(.778,1)"/><use href="#d" transform="rotate(46)translate(120)rotate(-46)scale(.778,1)"/><use href="#d" transform="rotate(56)translate(127)rotate(-56)scale(.778,1)"/><use href="#d" transform="rotate(66)translate(126)rotate(-66)scale(.778,1)"/><use href="#d" transform="rotate(76)translate(122)rotate(-76)scale(.778,1)"/><use href="#d" transform="rotate(86)translate(129)rotate(-86)scale(.778,1)"/><use href="#d" transform="rotate(96)translate(124)rotate(-96)scale(.778,1)"/><use href="#d" transform="rotate(106)translate(120)rotate(-106)scale(.778,1)"/><use href="#d" transform="rotate(116)translate(127)rotate(-116)scale(.778,1)"/><use href="#d" transform="rotate(126)translate(126)rotate(-126)scale(.778,1)"/><use href="#d" transform="rotate(136)translate(122)rotate(-136)scale(.778,1)"/><use href="#d" transform="rotate(146)translate(129)rotate(-146)scale(.778,1)"/><use href="#d" transform="rotate(156)translate(124)rotate(-156)scale(.778,1)"/><use href="#d" transform="rotate(166)translate(120)rotate(-166)scale(.778,1)"/><use href="#d" transform="rotate(176)translate(127)rotate(-176)scale(.778,1)"/><use href="#d" transform="rotate(186)translate(126)rotate(-186)scale(.778,1)"/><use href="#d" transform="rotate(196)translate(122)rotate(-196)scale(.778,1)"/><use href="#d" transform="rotate(206)translate(129)rotate(-206)scale(.778,1)"/><use href="#d" transform="rotate(216)translate(124)rotate(-216)scale(.778,1)"/><use href="#d" transform="rotate(226)translate(120)rotate(-226)scale(.778,1)"/><use href="#d" transform="rotate(236)translate(127)rotate(-236)scale(.778,1)"/><use href="#d" transform="rotate(246)translate(126)rotate(-246)scale(.778,1)"/><use href="#d" transform="rotate(256)translate(122)rotate(-256)scale(.778,1)"/><use href="#d" transform="rotate(266)translate(129)rotate(-266)scale(.778,1)"/><use href="#d" transform="rotate(276)translate(124)rotate(-276)scale(.778,1)"/><use href="#d" transform="rotate(286)translate(120)rotate(-286)scale(.778,1)"/><use href="#d" transform="rotate(296)translate(127)rotate(-296)scale(.778,1)"/><use href="#d" transform="rotate(306)translate(126)rotate(-306)scale(.778,1)"/><use href="#d" transform="rotate(316)translate(122)rotate(-316)scale(.778,1)"/><use href="#d" transform="rotate(326)translate(129)rotate(-326)scale(.778,1)"/><use href="#d" transform="rotate(336)translate(124)rotate(-336)scale(.778,1)"/><use href="#d" transform="rotate(346)translate(120)rotate(-346)scale(.778,1)"/><use href="#d" transform="rotate(356)translate(127)rotate(-356)scale(.778,1)"/>
<use href="#d" transform="rotate(1)translate(102)rotate(-1)scale(.778,1)"/><use href="#d" transform="rotate(13)translate(98)rotate(-13)scale(.778,1)"/><use href="#d" transform="rotate(25)translate(105)rotate(-25)scale(.778,1)"/><use href="#d" transform="rotate(37)translate(100)rotate(-37)scale(.778,1)"/><use href="#d" transform="rotate(49)translate(96)rotate(-49)scale(.778,1)"/><use href="#d" transform="rotate(61)translate(102)rotate(-61)scale(.778,1)"/><use href="#d" transform="rotate(73)translate(98)rotate(-73)scale(.778,1)"/><use href="#d" transform="rotate(85)translate(105)rotate(-85)scale(.778,1)"/><use href="#d" transform="rotate(97)translate(100)rotate(-97)scale(.778,1)"/><use href="#d" transform="rotate(109)translate(96)rotate(-109)scale(.778,1)"/><use href="#d" transform="rotate(121)translate(102)rotate(-121)scale(.778,1)"/><use href="#d" transform="rotate(133)translate(98)rotate(-133)scale(.778,1)"/><use href="#d" transform="rotate(145)translate(105)rotate(-145)scale(.778,1)"/><use href="#d" transform="rotate(157)translate(100)rotate(-157)scale(.778,1)"/><use href="#d" transform="rotate(169)translate(96)rotate(-169)scale(.778,1)"/><use href="#d" transform="rotate(181)translate(102)rotate(-181)scale(.778,1)"/><use href="#d" transform="rotate(193)translate(98)rotate(-193)scale(.778,1)"/><use href="#d" transform="rotate(205)translate(105)rotate(-205)scale(.778,1)"/><use href="#d" transform="rotate(217)translate(100)rotate(-217)scale(.778,1)"/><use href="#d" transform="rotate(229)translate(96)rotate(-229)scale(.778,1)"/><use href="#d" transform="rotate(241)translate(102)rotate(-241)scale(.778,1)"/><use href="#d" transform="rotate(253)translate(98)rotate(-253)scale(.778,1)"/><use href="#d" transform="rotate(265)translate(105)rotate(-265)scale(.778,1)"/><use href="#d" transform="rotate(277)translate(100)rotate(-277)scale(.778,1)"/><use href="#d" transform="rotate(289)translate(96)rotate(-289)scale(.778,1)"/><use href="#d" transform="rotate(301)translate(102)rotate(-301)scale(.778,1)"/><use href="#d" transform="rotate(313)translate(98)rotate(-313)scale(.778,1)"/><use href="#d" transform="rotate(325)translate(105)rotate(-325)scale(.778,1)"/><use href="#d" transform="rotate(337)translate(100)rotate(-337)scale(.778,1)"/><use href="#d" transform="rotate(349)translate(96)rotate(-349)scale(.778,1)"/>
<use href="#d" transform="rotate(8)translate(79)rotate(-8)scale(.778,1)"/><use href="#d" transform="rotate(23)translate(75)rotate(-23)scale(.778,1)"/><use href="#d" transform="rotate(38)translate(82)rotate(-38)scale(.778,1)"/><use href="#d" transform="rotate(53)translate(77)rotate(-53)scale(.778,1)"/><use href="#d" transform="rotate(68)translate(79)rotate(-68)scale(.778,1)"/><use href="#d" transform="rotate(83)translate(75)rotate(-83)scale(.778,1)"/><use href="#d" transform="rotate(98)translate(82)rotate(-98)scale(.778,1)"/><use href="#d" transform="rotate(113)translate(77)rotate(-113)scale(.778,1)"/><use href="#d" transform="rotate(128)translate(79)rotate(-128)scale(.778,1)"/><use href="#d" transform="rotate(143)translate(75)rotate(-143)scale(.778,1)"/><use href="#d" transform="rotate(158)translate(82)rotate(-158)scale(.778,1)"/><use href="#d" transform="rotate(173)translate(77)rotate(-173)scale(.778,1)"/><use href="#d" transform="rotate(188)translate(79)rotate(-188)scale(.778,1)"/><use href="#d" transform="rotate(203)translate(75)rotate(-203)scale(.778,1)"/><use href="#d" transform="rotate(218)translate(82)rotate(-218)scale(.778,1)"/><use href="#d" transform="rotate(233)translate(77)rotate(-233)scale(.778,1)"/><use href="#d" transform="rotate(248)translate(79)rotate(-248)scale(.778,1)"/><use href="#d" transform="rotate(263)translate(75)rotate(-263)scale(.778,1)"/><use href="#d" transform="rotate(278)translate(82)rotate(-278)scale(.778,1)"/><use href="#d" transform="rotate(293)translate(77)rotate(-293)scale(.778,1)"/><use href="#d" transform="rotate(308)translate(79)rotate(-308)scale(.778,1)"/><use href="#d" transform="rotate(323)translate(75)rotate(-323)scale(.778,1)"/><use href="#d" transform="rotate(338)translate(82)rotate(-338)scale(.778,1)"/><use href="#d" transform="rotate(353)translate(77)rotate(-353)scale(.778,1)"/>
<use href="#d" transform="rotate(13)translate(57)rotate(-13)scale(.778,1)"/><use href="#d" transform="rotate(37)translate(53)rotate(-37)scale(.778,1)"/><use href="#d" transform="rotate(61)translate(60)rotate(-61)scale(.778,1)"/><use href="#d" transform="rotate(85)translate(57)rotate(-85)scale(.778,1)"/><use href="#d" transform="rotate(109)translate(53)rotate(-109)scale(.778,1)"/><use href="#d" transform="rotate(133)translate(60)rotate(-133)scale(.778,1)"/><use href="#d" transform="rotate(157)translate(57)rotate(-157)scale(.778,1)"/><use href="#d" transform="rotate(181)translate(53)rotate(-181)scale(.778,1)"/><use href="#d" transform="rotate(205)translate(60)rotate(-205)scale(.778,1)"/><use href="#d" transform="rotate(229)translate(57)rotate(-229)scale(.778,1)"/><use href="#d" transform="rotate(253)translate(53)rotate(-253)scale(.778,1)"/><use href="#d" transform="rotate(277)translate(60)rotate(-277)scale(.778,1)"/><use href="#d" transform="rotate(301)translate(57)rotate(-301)scale(.778,1)"/><use href="#d" transform="rotate(325)translate(53)rotate(-325)scale(.778,1)"/><use href="#d" transform="rotate(349)translate(60)rotate(-349)scale(.778,1)"/>
</g>
</g>

<g id="captions">
<text class="cap" x="416" y="585">カテゴリ同士の共起関係を示した</text>
<text class="cap" x="416" y="611">完全結合型ネットワーク</text>
<text class="cap" x="416" y="643">（注）エッジの太さはカテゴリ間の共起頻度を示す</text>
<text class="cap" x="978" y="585">「インクルーシブ」という語彙を</text>
<text class="cap" x="978" y="611">起点とする共起ネットワーク</text>
</g>
</svg>
